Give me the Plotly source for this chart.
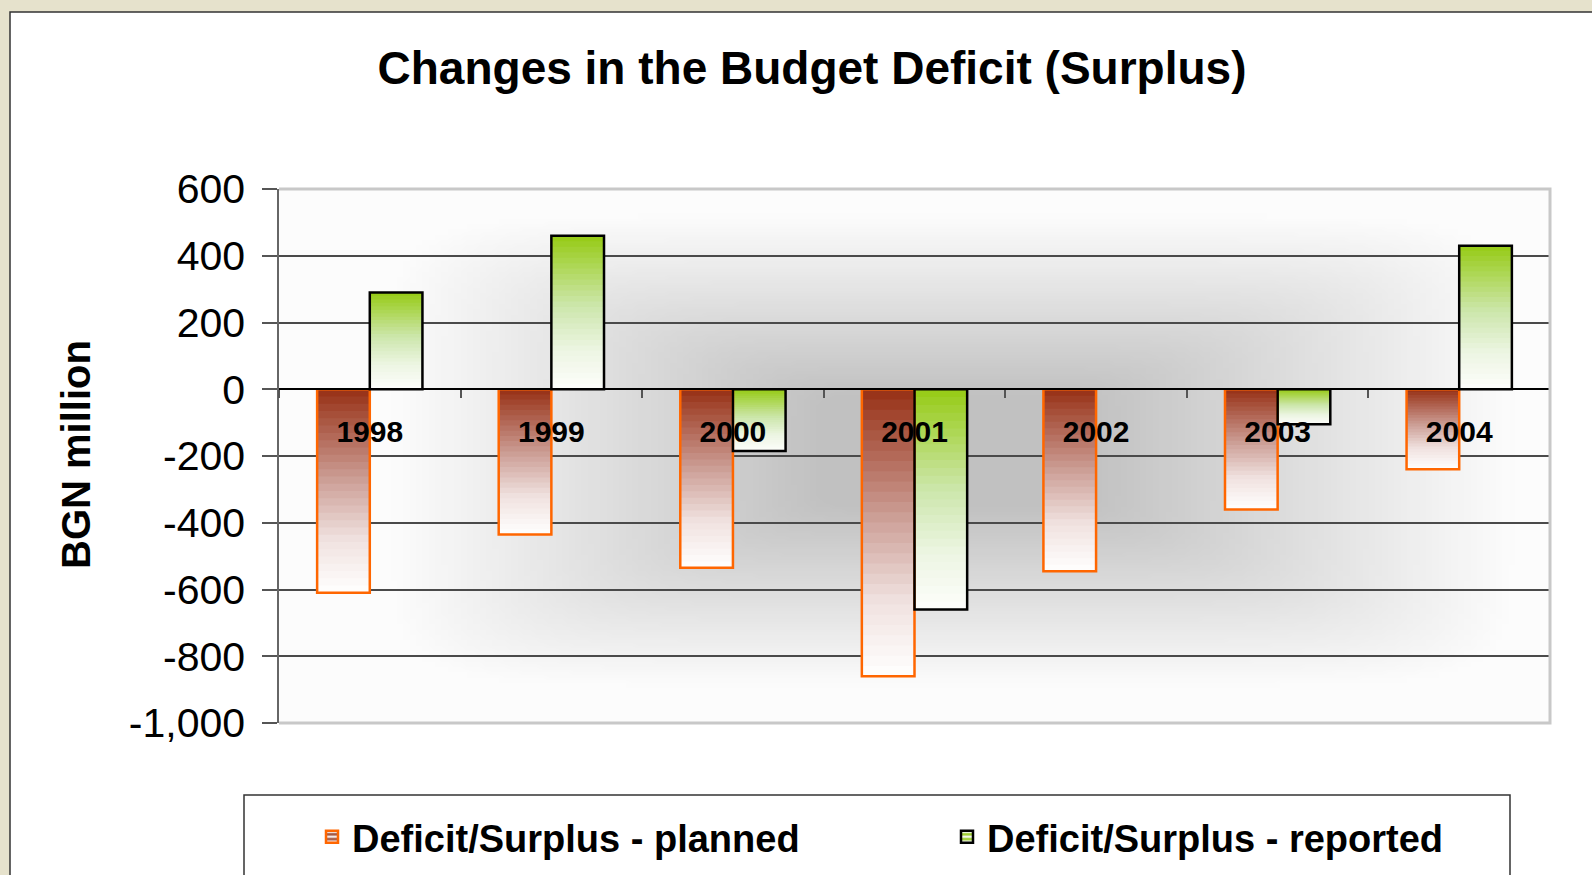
import base64
import struct
import zlib

import plotly.graph_objects as go

# data (BGN million)
years = ["1998", "1999", "2000", "2001", "2002", "2003", "2004"]
planned = [-610, -435, -535, -860, -545, -360, -240]
reported = [290, 460, -185, -660, None, -105, 430]

y_ticks = [-1000, -800, -600, -400, -200, 0, 200, 400, 600]
y_tick_text = ["-1,000", "-800", "-600", "-400", "-200", "0", "200", "400", "600"]

W, H = 1592, 875
L, R, T, B = 279, 1550, 189, 723   # plot area in pixels
YMIN, YMAX = -1000, 600
FONT = "Liberation Sans, Arial, sans-serif"


def px2x(px):
    return (px - L) / (R - L)


def py2y(py):
    return (B - py) / (B - T)


def mix(stops, t):
    # stops: list of (pos, (r,g,b))
    for (p0, c0), (p1, c1) in zip(stops, stops[1:]):
        if t <= p1:
            f = 0 if p1 == p0 else (t - p0) / (p1 - p0)
            c = [round(a + (b - a) * f) for a, b in zip(c0, c1)]
            return "rgb(%d,%d,%d)" % tuple(c)
    return "rgb(%d,%d,%d)" % stops[-1][1]


red_stops = [(0, (153, 52, 26)), (0.45, (205, 160, 152)), (0.75, (240, 226, 224)), (1, (254, 253, 252))]
green_stops = [(0, (152, 204, 26)), (0.45, (204, 230, 170)), (0.75, (236, 245, 226)), (1, (252, 253, 250))]


def gradient_bars(fig, values, stops, offset, width, n=28):
    # each layer runs from a fraction down the bar to its bottom; later layers cover the lower part
    for k in range(n):
        bases, heights = [], []
        for v in values:
            if v is None:
                bases.append(None)
                heights.append(None)
                continue
            top, bottom = max(v, 0), min(v, 0)
            start = top - k * (top - bottom) / n
            bases.append(start)
            heights.append(bottom - start)
        fig.add_trace(go.Bar(
            x=years, y=heights, base=bases,
            offset=offset, width=width,
            marker=dict(color=mix(stops, k / (n - 1)), line=dict(width=0)),
            showlegend=False, hoverinfo="skip"))


def background_png(w=200, h=100):
    # grey "from centre" rectangular fill of the plot area
    rows = []
    for j in range(h):
        row = bytearray([0])
        for i in range(w):
            u = abs(i / (w - 1) - 0.53) / 0.5
            v = abs(j / (h - 1) - 0.49) / 0.5
            d = (u ** 8 + v ** 8) ** 0.125
            f = min(max((d - 0.2) / 0.68, 0.0), 1.0)
            row.append(int(193 + 59 * f))
        rows.append(bytes(row))
    raw = b"".join(rows)

    def chunk(tag, data):
        return (struct.pack(">I", len(data)) + tag + data
                + struct.pack(">I", zlib.crc32(tag + data) & 0xFFFFFFFF))

    png = (b"\x89PNG\r\n\x1a\n"
           + chunk(b"IHDR", struct.pack(">IIBBBBB", w, h, 8, 0, 0, 0, 0))
           + chunk(b"IDAT", zlib.compress(raw))
           + chunk(b"IEND", b""))
    return "data:image/png;base64," + base64.b64encode(png).decode()


fig = go.Figure()

bw = 0.29
gradient_bars(fig, planned, red_stops, -bw, bw)
gradient_bars(fig, reported, green_stops, 0, bw)

# outlines
fig.add_trace(go.Bar(x=years, y=planned, offset=-bw, width=bw,
                     marker=dict(color="rgba(0,0,0,0)", line=dict(color="#ff6600", width=2.5)),
                     showlegend=False, hoverinfo="skip"))
fig.add_trace(go.Bar(x=years, y=reported, offset=0, width=bw,
                     marker=dict(color="rgba(0,0,0,0)", line=dict(color="#000000", width=2.5)),
                     showlegend=False, hoverinfo="skip"))

# legend entries
fig.add_trace(go.Bar(x=years, y=[None] * len(years), name="Deficit/Surplus - planned",
                     marker=dict(color="#c58a80", line=dict(color="#ff6600", width=2.5),
                                 pattern=dict(shape="-", fgcolor="#a0503a", bgcolor="#f4e8e6",
                                              size=6, solidity=0.5))))
fig.add_trace(go.Bar(x=years, y=[None] * len(years), name="Deficit/Surplus - reported",
                     marker=dict(color="#cde6a8", line=dict(color="#000000", width=2.5),
                                 pattern=dict(shape="-", fgcolor="#9acc2a", bgcolor="#f2f8ea",
                                              size=6, solidity=0.5))))

zero_pos = (0 - YMIN) / (YMAX - YMIN)

fig.update_layout(
    template="none",
    width=W, height=H,
    margin=dict(l=L, r=W - R, t=T, b=H - B, autoexpand=False),
    barmode="overlay",
    paper_bgcolor="white",
    plot_bgcolor="rgba(0,0,0,0)",
    font=dict(family=FONT, color="black"),
    title=dict(text="Changes in the Budget Deficit (Surplus)",
               font=dict(family=FONT, size=46, weight="bold", color="black"),
               x=px2x(812), xref="paper", xanchor="center",
               y=1 - 68 / H, yref="container", yanchor="middle"),
    xaxis=dict(type="category", range=[-0.5, len(years) - 0.5],
               anchor="free", position=zero_pos,
               showline=True, linecolor="#000000", linewidth=1.5,
               ticks="outside", tickson="boundaries", ticklen=8, tickcolor="#555555", tickwidth=1.5,
               tickfont=dict(family=FONT, size=30, weight="bold", color="black"),
               ticklabelstandoff=16,
               showgrid=False, zeroline=False, automargin=False, fixedrange=True),
    yaxis=dict(range=[YMIN, YMAX], tickvals=y_ticks, ticktext=y_tick_text,
               showline=True, linecolor="#666666", linewidth=1.5,
               ticks="outside", ticklen=15, tickcolor="#555555", tickwidth=1.5,
               tickfont=dict(family=FONT, size=41, color="black"),
               ticklabelstandoff=9,
               showgrid=True, gridcolor="#4a4a4a", gridwidth=1.5,
               zeroline=False, automargin=False, fixedrange=True),
    legend=dict(orientation="h", x=px2x(312), xanchor="left", y=py2y(837), yanchor="middle",
                font=dict(family=FONT, size=38, weight="bold", color="black"),
                bgcolor="rgba(0,0,0,0)", borderwidth=0,
                entrywidth=590, entrywidthmode="pixels", itemwidth=30),
    showlegend=True,
    annotations=[dict(text="BGN million", textangle=-90, showarrow=False,
                      xref="paper", yref="paper", x=px2x(76), y=py2y(455),
                      xanchor="center", yanchor="middle",
                      font=dict(family=FONT, size=40, weight="bold", color="black"))],
    images=[dict(source=background_png(), xref="paper", yref="paper",
                 x=0, y=1, sizex=1, sizey=1, sizing="stretch", layer="below")],
    shapes=[
        # beige page margins
        dict(type="rect", xref="paper", yref="paper", layer="below", line=dict(width=0),
             fillcolor="#e6e2cc", x0=px2x(-5), x1=px2x(10), y0=py2y(H + 5), y1=py2y(-5)),
        dict(type="rect", xref="paper", yref="paper", layer="below", line=dict(width=0),
             fillcolor="#e6e2cc", x0=px2x(-5), x1=px2x(W + 5), y0=py2y(12), y1=py2y(-5)),
        # chart box border
        dict(type="path", xref="paper", yref="paper", layer="below",
             path="M %f,%f L %f,%f L %f,%f" % (px2x(10), py2y(H + 5), px2x(10), py2y(12),
                                               px2x(W + 5), py2y(12)),
             line=dict(color="#333333", width=1.5)),
        # plot frame (top, right, bottom)
        dict(type="path", xref="paper", yref="paper", layer="above",
             path="M 0,1 L 1,1 L 1,0 L 0,0", line=dict(color="#c8c8c8", width=3)),
        # legend box
        dict(type="rect", xref="paper", yref="paper", layer="below",
             x0=px2x(244), x1=px2x(1510), y0=py2y(H + 20), y1=py2y(795),
             line=dict(color="#333333", width=1.5), fillcolor="white"),
    ],
)

fig.write_html("out.html", config={"displayModeBar": False},
               post_script="document.body.style.margin='0';document.body.style.overflow='hidden';")
